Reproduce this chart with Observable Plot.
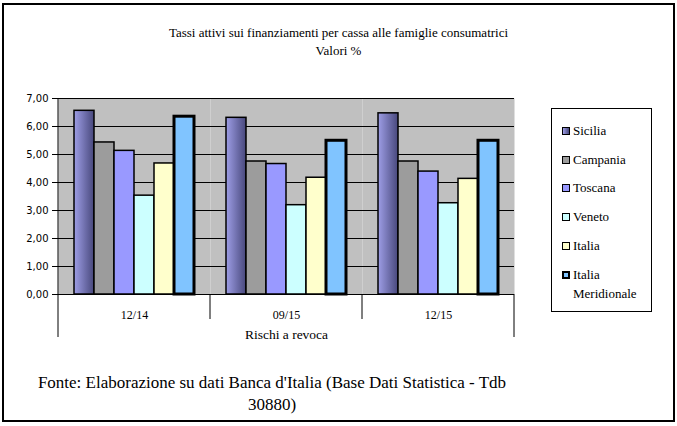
<!DOCTYPE html>
<html>
<head>
<meta charset="utf-8">
<script src="https://cdn.jsdelivr.net/npm/d3@7"></script>
<script src="https://cdn.jsdelivr.net/npm/@observablehq/plot@0.6"></script>
<style>
  body { margin: 0; background: #fff; }
  #wrap { position: relative; width: 677px; height: 426px; overflow: hidden; font-family: "Liberation Serif", "Times New Roman", Times, "DejaVu Serif", serif; color: #000; }
  #frame { position: absolute; left: 2px; top: 3px; width: 669px; height: 415px; border: 2px solid #000; }
  #title { position: absolute; left: 0; top: 24px; width: 677px; text-align: center; font-size: 13px; line-height: 18px; }
  #chart { position: absolute; left: 0; top: 80px; }
  #legend { position: absolute; left: 551px; top: 108px; width: 99px; height: 202px; border: 1px solid #000; background: #fff; }
  .item { position: absolute; left: 10px; font-size: 13px; line-height: 19px; }
  .sw { position: absolute; left: 0; width: 6px; height: 6px; top: 6px; border: 1px solid #000; }
  .lbl { position: absolute; left: 11px; white-space: nowrap; }
  #source { position: absolute; left: 12px; top: 372px; width: 520px; text-align: center; font-size: 17px; line-height: 22px; }
  svg g[aria-label="y-axis tick label"] { font-family: "DejaVu Sans", sans-serif; font-size: 10px; }
  svg g[aria-label="fx-axis label"] { font-size: 13.5px; }
</style>
</head>
<body>
<div id="wrap">
  <div id="frame"></div>
  <div id="title">Tassi attivi sui finanziamenti per cassa alle famiglie consumatrici<br>Valori %</div>
  <div id="chart"></div>
  <div id="legend"></div>
  <div id="source">Fonte: Elaborazione su dati Banca d'Italia (Base Dati Statistica - Tdb<br>30880)</div>
</div>
<script>
// ---- data ----
const periods = ["12/14", "09/15", "12/15"];
const regions = ["Sicilia", "Campania", "Toscana", "Veneto", "Italia", "Italia Meridionale"];
const sicilia     = [6.56, 6.31, 6.47];
const campania    = [5.43, 4.75, 4.75];
const toscana     = [5.13, 4.66, 4.39];
const veneto      = [3.53, 3.19, 3.26];
const italia      = [4.68, 4.17, 4.13];
const meridionale = [6.35, 5.49, 5.49];
const yTicks = [0, 1, 2, 3, 4, 5, 6, 7];
const axisTitle = "Rischi a revoca";
const colors = ["url(#sicGrad)", "#9c9c9c", "#9999ff", "#ccffff", "#ffffcc", "#80c4ff"];

const series = [sicilia, campania, toscana, veneto, italia, meridionale];
const rows = periods.flatMap((p, i) => regions.map((r, j) => ({period: p, region: r, value: series[j][i]})));
const merid = regions[5];
const serifFont = "'Liberation Serif', 'Times New Roman', Times, 'DejaVu Serif', serif";

const chart = Plot.plot({
  width: 540,
  height: 265,
  marginLeft: 58,
  marginRight: 26,
  marginTop: 18,
  marginBottom: 51,
  style: {fontFamily: serifFont, fontSize: "12px", color: "#000", background: "transparent", overflow: "visible"},
  fx: {domain: periods, padding: 0, axis: "bottom", label: axisTitle, labelAnchor: "center", labelOffset: 44, tickSize: 0, tickPadding: 16},
  x: {domain: regions, axis: null, paddingInner: 0, paddingOuter: 0.74},
  y: {domain: [0, 7], ticks: yTicks, tickFormat: d => d.toFixed(2).replace(".", ","), label: null, tickSize: 6, tickPadding: 4},
  color: {domain: regions, range: colors},
  marks: [
    Plot.frame({fill: "#c0c0c0", stroke: "none"}),
    Plot.ruleY(yTicks, {stroke: "#000", strokeWidth: 1}),
    Plot.barY(rows.filter(d => d.region !== merid), {fx: "period", x: "region", y: "value", fill: "region", stroke: "#000", strokeWidth: 1.5}),
    Plot.barY(rows.filter(d => d.region === merid), {fx: "period", x: "region", y: "value", fill: "region", stroke: "#000", strokeWidth: 3})
  ]
});
document.getElementById("chart").appendChild(chart);

// gradient for Sicilia bars
const svg = d3.select(chart.tagName.toLowerCase() === "svg" ? chart : chart.querySelector("svg"));
const grad = svg.insert("defs", ":first-child").append("linearGradient").attr("id", "sicGrad").attr("x1", "0").attr("x2", "1").attr("y1", "0").attr("y2", "0");
grad.append("stop").attr("offset", "0%").attr("stop-color", "#9e9ee6");
grad.append("stop").attr("offset", "100%").attr("stop-color", "#48487c");

// category separators from the fx / y scales
const fx = chart.scale("fx");
const y = chart.scale("y");
const y0 = y.apply(0), y7 = y.apply(7);
const edges = periods.map(p => fx.apply(p)).concat([fx.apply(periods[periods.length - 1]) + fx.bandwidth]);
const g = svg.append("g").attr("stroke", "#000").attr("stroke-width", 1);
edges.forEach((x, i) => {
  const outer = i === 0 || i === edges.length - 1;
  g.append("line").attr("x1", x).attr("x2", x)
    .attr("y1", i === 0 ? y7 : y0)
    .attr("y2", outer ? y0 + 43 : y0 + 25);
});

// legend
const legend = d3.select("#legend");
const legendLabels = ["Sicilia", "Campania", "Toscana", "Veneto", "Italia", "Italia<br>Meridionale"];
regions.forEach((r, i) => {
  const item = legend.append("div").attr("class", "item").style("top", (12 + i * 28.7) + "px");
  const sw = item.append("div").attr("class", "sw")
    .style("background", i === 0 ? "linear-gradient(to right, #9e9ee6, #48487c)" : colors[i]);
  if (i === 5) sw.style("border-width", "2px").style("width", "4px").style("height", "4px");
  item.append("div").attr("class", "lbl").html(legendLabels[i]);
});
</script>
</body>
</html>
